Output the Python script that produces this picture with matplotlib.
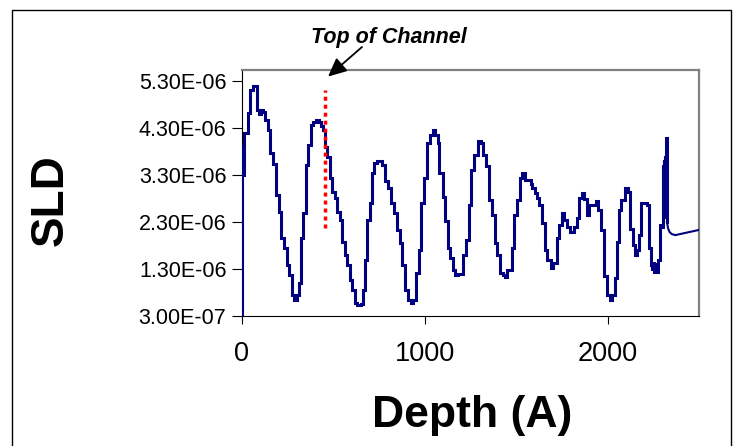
import numpy as np
import matplotlib
matplotlib.use('Agg')
import matplotlib.pyplot as plt
from matplotlib.patches import Rectangle

# step profile: depth (A) where each layer starts, SLD in units of 1e-6
depth = [0, 0.5, 4, 8, 14, 33, 45, 63, 82, 96, 104, 114, 129, 142, 156, 169,
         187, 202, 214, 232, 245, 260, 274, 287, 300, 311, 323, 336, 350, 365,
         378, 392, 405, 420, 432, 445, 456, 469, 481, 496, 508, 523, 536, 550,
         563, 578, 590, 605, 617, 632, 650, 663, 672, 685, 699, 714, 726, 740,
         765, 785, 799, 817, 832, 848, 863, 877, 894, 908, 926, 939, 954, 968,
         981, 999, 1012, 1030, 1044, 1059, 1071, 1081, 1099, 1113, 1126, 1139,
         1153, 1168, 1184, 1199, 1212, 1226, 1240, 1253, 1271, 1290, 1308, 1321,
         1335, 1350, 1371, 1386, 1398, 1412, 1426, 1439, 1450, 1475, 1489, 1504,
         1522, 1535, 1550, 1580, 1589, 1602, 1613, 1626, 1644, 1658, 1671, 1690,
         1704, 1722, 1735, 1749, 1762, 1776, 1795, 1816, 1831, 1844, 1858, 1872,
         1885, 1898, 1925, 1935, 1950, 1965, 1980, 1995, 2013, 2025, 2040, 2053,
         2065, 2076, 2094, 2113, 2125, 2138, 2149, 2162, 2171, 2183, 2198, 2216,
         2225, 2237, 2245, 2252, 2256, 2261, 2266, 2276, 2289, 2298, 2302, 2304,
         2306, 2308, 2310, 2312, 2314, 2316, 2318, 2320, 2322, 2325]
sld = [0.0, 3.25, 3.90, 3.30, 4.19, 4.61, 5.11, 5.20, 4.68, 4.60, 4.68, 4.63,
       4.47, 4.26, 3.76, 3.53, 2.87, 2.52, 1.95, 1.74, 1.39, 1.17, 0.75, 0.64,
       0.75, 1.00, 1.95, 2.48, 3.51, 3.94, 4.36, 4.43, 4.47, 4.43, 4.33, 4.26,
       3.90, 3.69, 3.23, 2.94, 2.80, 2.52, 2.34, 1.88, 1.60, 1.39, 1.07, 0.85,
       0.57, 0.53, 0.55, 0.85, 1.49, 2.34, 2.70, 3.34, 3.55, 3.60, 3.51, 3.16,
       3.02, 2.70, 2.48, 2.13, 1.85, 1.39, 0.85, 0.64, 0.57, 0.64, 1.21, 1.70,
       2.70, 3.23, 3.97, 4.15, 4.26, 4.15, 3.97, 3.34, 2.84, 2.31, 1.74, 1.53,
       1.28, 1.17, 1.19, 1.20, 1.60, 1.92, 2.66, 3.41, 3.73, 4.02, 3.97, 3.73,
       3.48, 2.77, 2.45, 1.85, 1.60, 1.21, 1.17, 1.12, 1.28, 1.74, 2.45, 2.77,
       3.23, 3.34, 3.19, 3.10, 3.02, 2.91, 2.80, 2.66, 2.27, 1.70, 1.49, 1.33,
       1.42, 1.95, 2.24, 2.48, 2.34, 2.20, 2.09, 2.20, 2.38, 2.80, 2.91, 2.78,
       2.45, 2.66, 2.66, 2.75, 2.56, 2.13, 1.14, 0.75, 0.64, 0.75, 1.10, 1.88,
       2.56, 2.77, 3.02, 2.94, 2.16, 1.81, 1.60, 1.70, 2.02, 2.70, 2.70, 2.66,
       1.74, 1.39, 1.30, 1.45, 1.24, 1.40, 1.24, 1.49, 2.24, 2.20, 3.50, 2.40,
       3.50, 2.40, 3.60, 2.40, 3.70, 2.40, 3.90, 2.40, 4.08, 2.30]

# smooth substrate tail after the last layer
tail_depth = [2325, 2331, 2340, 2352, 2371, 2500]
tail_sld = [2.30, 2.16, 2.08, 2.04, 2.02, 2.13]

channel_depth = 454
channel_sld = [2.17, 5.11]

ytick_vals = [0.3, 1.3, 2.3, 3.3, 4.3, 5.3]
ytick_labels = ['3.00E-07', '1.30E-06', '2.30E-06', '3.30E-06', '4.30E-06', '5.30E-06']
xtick_vals = [0, 1000, 2000]

plt.rcParams['font.family'] = ['Liberation Sans', 'DejaVu Sans']

W, H = 738, 446
fig = plt.figure(figsize=(W / 100, H / 100), dpi=100)
ax = fig.add_axes([241.7 / W, (H - 316) / H, (699 - 241.7) / W, (316 - 70) / H])

navy = '#000080'
ax.plot(depth, np.array(sld) * 1e-6, drawstyle='steps-post', color=navy, lw=2.2,
        solid_joinstyle='miter', zorder=3)
ax.plot(tail_depth, np.array(tail_sld) * 1e-6, color=navy, lw=1.5, zorder=3)

# top of channel marker
ax.plot([channel_depth, channel_depth], np.array(channel_sld) * 1e-6, color='red',
        lw=2.5, linestyle=(0, (1.15, 1.15)), dash_capstyle='butt', zorder=4)

ax.set_xlim(0, 2500)
ax.set_ylim(0.3e-6, 5.53e-6)
ax.set_xticks(xtick_vals)
ax.set_xticklabels([str(v) for v in xtick_vals], fontsize=19.5)
ax.set_yticks(np.array(ytick_vals) * 1e-6)
ax.set_yticklabels(ytick_labels, fontsize=15.5)
ax.tick_params(axis='x', direction='out', length=6, width=0.8, pad=12)
ax.tick_params(axis='y', direction='out', length=7, width=0.8, pad=4)

for side in ('top', 'right'):
    ax.spines[side].set_color('#808080')
    ax.spines[side].set_linewidth(1.6)
for side in ('left', 'bottom'):
    ax.spines[side].set_color('black')
    ax.spines[side].set_linewidth(0.8)

fig.text(51 / W, 1 - 200 / H, 'SLD', rotation=90, fontsize=33, fontweight='bold',
         ha='center', va='center')
fig.text(472 / W, 1 - 415 / H, 'Depth (A)', fontsize=32, fontweight='bold',
         ha='center', va='center')

fig.text(389 / W, 1 - 38 / H, 'Top of Channel', fontsize=15.5, fontweight='bold',
         fontstyle='italic', ha='center', va='center')
ax.annotate('', xy=(472, 5.39e-6), xycoords='data',
            xytext=(362 / W, 1 - 47 / H), textcoords='figure fraction',
            arrowprops=dict(arrowstyle='-|>,head_length=0.75,head_width=0.35',
                            color='black', lw=1.3, mutation_scale=15,
                            shrinkA=0, shrinkB=0),
            annotation_clip=False)

# outer chart border
fig.patches.append(Rectangle((12 / W, -0.02), (731 - 12) / W, 1 - 10 / H + 0.02,
                             transform=fig.transFigure, fill=False,
                             edgecolor='black', lw=1.0))

fig.savefig('out.png', dpi=100)
